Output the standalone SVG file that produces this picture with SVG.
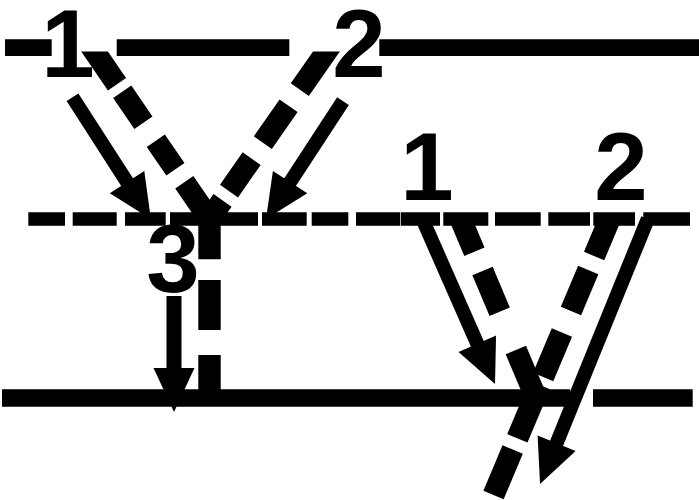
<svg xmlns="http://www.w3.org/2000/svg" width="699" height="500" viewBox="0 0 699 500">
<style>
.ln{stroke:#000;fill:none;stroke-linecap:butt;stroke-linejoin:miter}
.sol{stroke-width:14}
.dsh{stroke-width:22}
.lbl{font-family:"Liberation Sans",Arial,sans-serif;font-weight:bold;font-size:96px;fill:#000;text-anchor:middle}
</style>
<defs>
<marker id="ah" markerUnits="userSpaceOnUse" orient="auto" refX="0" refY="0" markerWidth="60" markerHeight="60" style="overflow:visible">
<path d="M-4,-20.5 L40,0 L-4,20.5 Z" fill="#000"/>
</marker>
<clipPath id="topcut"><rect x="0" y="51.5" width="699" height="448.5"/></clipPath>
</defs>
<rect width="699" height="500" fill="#fff"/>
<g id="boundaries">
<path class="ln" stroke-width="16.7" d="M5,47.7 H51.7 M116.7,47.7 H289.3 M379.3,47.7 H699"/>
<path class="ln" stroke-width="13.4" d="M28.3,219 H65 M72.7,219 H116.7 M125,219 H165.7 M170,219 H258 M262,219 H306.7 M311.7,219 H348.3 M356,219 H400 M400.7,219 H440 M443.3,219 H488.3 M495,219 H540.7 M548.3,219 H590 M593.3,219 H635 M643.3,219 H690"/>
<path class="ln" stroke-width="17.3" d="M2,398 H570 M593,398 H692.7"/>
</g>
<g id="connectors">
<path class="ln dsh" clip-path="url(#topcut)" stroke-dasharray="54.4 9.3 37.4 21.9 34.7 15.7 300" d="M86.2,39.3 L209.5,219"/>
<path class="ln dsh" clip-path="url(#topcut)" stroke-dasharray="61.3 19.6 45 19.5 39.6 11.3 300" d="M334.9,39.4 L209.5,219"/>
<path class="ln" stroke-width="22.4" d="M209.5,205 V259.3 M209.5,280 V330 M209.5,355 V398"/>
<path class="ln dsh" stroke-dasharray="35.5 20.9 44.2 41.6 60" d="M460.6,219 L536.1,398"/>
<path class="ln dsh" stroke-dasharray="40.2 15.1 44.5 23.4 48.3 8.6 57.9 12.1 49.4" d="M609.7,219 L493.5,495"/>
<path class="ln sol" marker-end="url(#ah)" d="M72.5,97.3 L129.2,185.4"/>
<path class="ln sol" marker-end="url(#ah)" d="M343,101.2 L287.9,185.5"/>
<path class="ln" stroke-width="15" marker-end="url(#ah)" d="M174,296 L174,372"/>
<path class="ln sol" marker-end="url(#ah)" d="M422.4,219 L478.9,347.4"/>
<path class="ln sol" marker-end="url(#ah)" d="M647.8,219 L555.1,446.9"/>
</g>
<g id="label-top-1"><text class="lbl" x="68" y="76.5">1</text></g>
<g id="label-top-2"><text class="lbl" x="359" y="76.5">2</text></g>
<g id="label-3"><text class="lbl" x="173" y="291.5">3</text></g>
<g id="label-right-1"><text class="lbl" x="427" y="200">1</text></g>
<g id="label-right-2"><text class="lbl" x="621" y="200">2</text></g>
</svg>
